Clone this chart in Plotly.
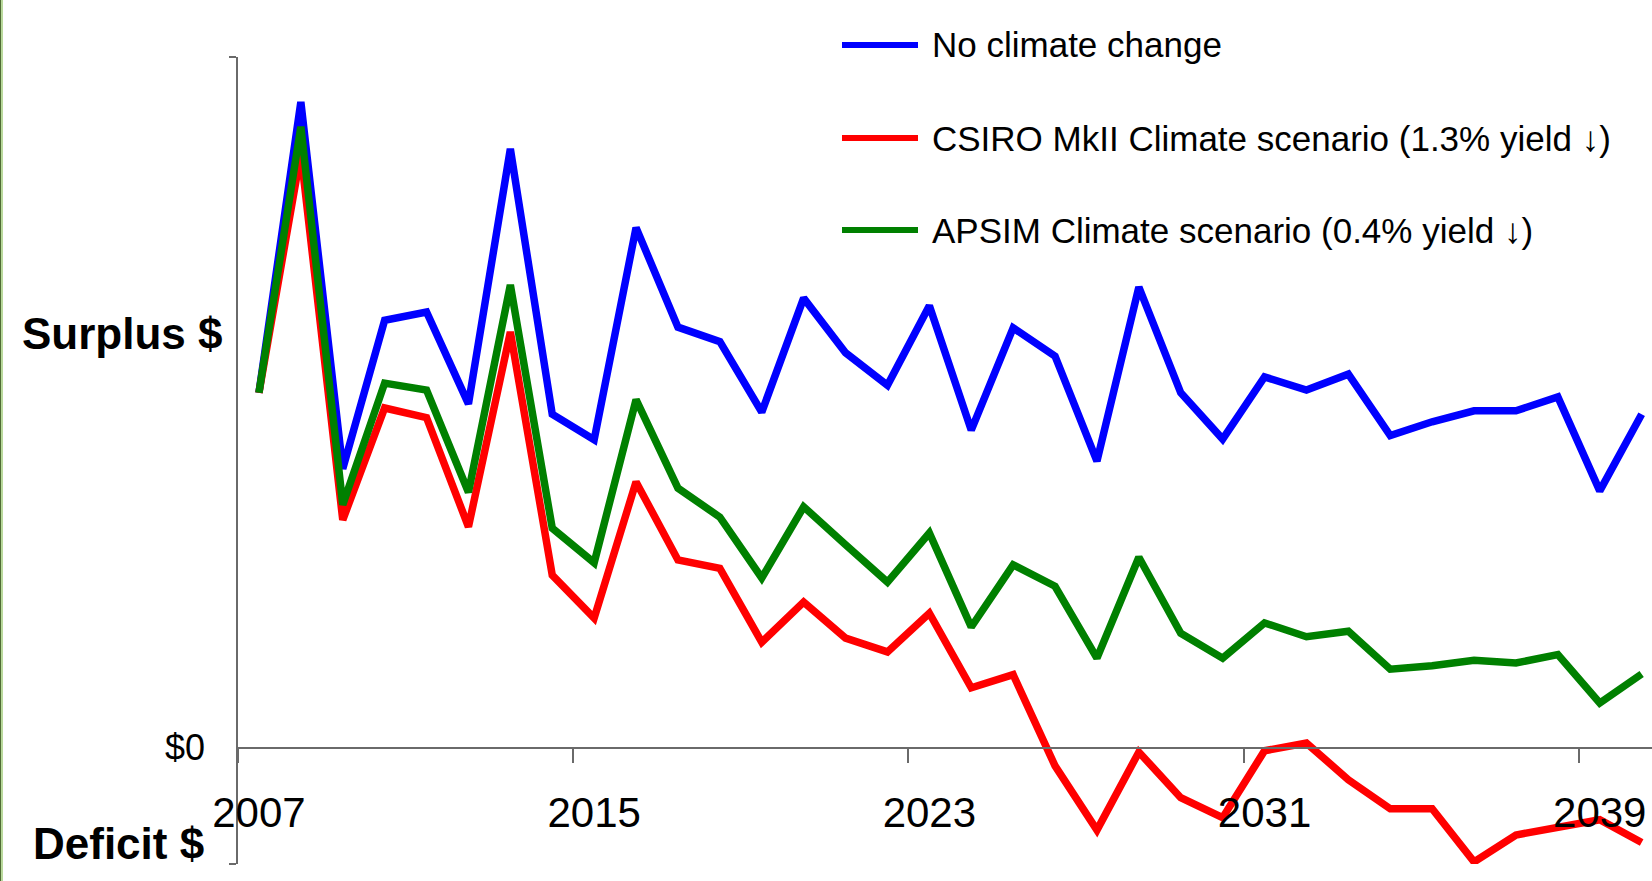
import plotly.graph_objects as go

# Annual farm cash balance by scenario (arbitrary $ units, 0 = break-even)
years = list(range(2007, 2041))

no_climate_change = [
    51.4, 93.5, 40.4, 61.9, 63.1, 49.8, 86.7, 48.3, 44.6, 75.3,
    60.9, 58.8, 48.6, 65.1, 57.2, 52.5, 64.0, 46.0, 60.8, 56.7,
    41.5, 66.7, 51.4, 44.7, 53.7, 51.8, 54.1, 45.2, 47.2, 48.8,
    48.8, 50.8, 37.2, 48.3,
]
csiro_mk2 = [
    51.4, 86.1, 33.0, 49.2, 47.8, 32.0, 60.2, 25.0, 18.8, 38.5,
    27.2, 26.0, 15.3, 21.1, 15.9, 13.9, 19.5, 8.7, 10.6, -2.6,
    -11.9, -0.6, -7.2, -10.1, -0.4, 0.7, -4.6, -8.8, -8.8, -16.5,
    -12.6, -11.4, -10.4, -13.7,
]
apsim = [
    51.4, 89.9, 35.2, 52.8, 51.8, 37.0, 67.0, 31.8, 26.8, 50.4,
    37.6, 33.4, 24.6, 34.9, 29.4, 24.0, 31.1, 17.5, 26.5, 23.4,
    13.0, 27.6, 16.6, 13.0, 18.1, 16.1, 16.9, 11.4, 11.9, 12.7,
    12.3, 13.5, 6.5, 10.7,
]

series_names = [
    "No climate change",
    "CSIRO MkII Climate scenario (1.3% yield \u2193)",
    "APSIM Climate scenario (0.4% yield \u2193)",
]
series_colors = ["#0000FF", "#FF0000", "#008000"]

year_labels = [2007, 2015, 2023, 2031, 2039]
y_min, y_max = -16.8, 100.0

# page geometry (pixels)
W, H = 1652, 881
L, R, T, B = 238, 0, 57, 17
plot_w = W - L - R
plot_h = H - T - B


def px_x(px):
    return (px - L) / plot_w


def px_y(py):
    return (H - B - py) / plot_h


font_family = "Liberation Sans, Arial, sans-serif"

fig = go.Figure()
# drawn in order: blue, red, then green on top
for name, vals, col in zip(series_names, [no_climate_change, csiro_mk2, apsim], series_colors):
    fig.add_trace(go.Scatter(
        x=years, y=vals, mode="lines", name=name,
        line=dict(color=col, width=7.5),
        showlegend=False, hoverinfo="skip",
    ))

zero_pos = (0 - y_min) / (y_max - y_min)

fig.update_layout(
    width=W, height=H,
    margin=dict(l=L, r=R, t=T, b=B, pad=0),
    paper_bgcolor="white", plot_bgcolor="white",
    xaxis=dict(
        range=[2006.5, 2006.5 + plot_w / 41.9],
        anchor="free", position=zero_pos,
        showgrid=False, zeroline=False,
        showline=True, linecolor="#6a6a6a", linewidth=1.5,
        tickmode="array", tickvals=year_labels,
        ticktext=[str(v) for v in year_labels],
        ticks="outside", ticklen=28, tickcolor="rgba(0,0,0,0)",
        tickfont=dict(family=font_family, size=42, color="black"),
        minor=dict(
            tickvals=[v - 0.5 for v in year_labels],
            ticks="outside", ticklen=14, tickcolor="#6a6a6a", tickwidth=1.5,
            showgrid=False,
        ),
    ),
    yaxis=dict(
        range=[y_min, y_max],
        showgrid=False, zeroline=False,
        showline=True, linecolor="#6a6a6a", linewidth=1.5,
        tickmode="array", tickvals=[y_min, y_max], ticktext=["", ""],
        ticks="outside", ticklen=7, tickcolor="#6a6a6a", tickwidth=1.5,
    ),
)

annotations = [
    dict(text="$0", x=px_x(207), y=zero_pos, xanchor="right", yanchor="middle",
         font=dict(family=font_family, size=36, color="black")),
    dict(text="<b>Surplus $</b>", x=px_x(122), y=px_y(333), xanchor="center", yanchor="middle",
         font=dict(family=font_family, size=44, color="black")),
    dict(text="<b>Deficit $</b>", x=px_x(118), y=px_y(843), xanchor="center", yanchor="middle",
         font=dict(family=font_family, size=44, color="black")),
]

shapes = [
    # left page border
    dict(type="line", xref="paper", yref="paper", x0=px_x(0.5), x1=px_x(0.5), y0=px_y(0), y1=px_y(H),
         line=dict(color="#4f6b35", width=1)),
    dict(type="line", xref="paper", yref="paper", x0=px_x(2), x1=px_x(2), y0=px_y(0), y1=px_y(H),
         line=dict(color="#b9d99c", width=2)),
]

# legend: line samples with labels
legend_rows = [45, 138, 230]
for name, col, row in zip(series_names, series_colors, legend_rows):
    shapes.append(dict(type="line", xref="paper", yref="paper",
                       x0=px_x(842), x1=px_x(918), y0=px_y(row), y1=px_y(row),
                       line=dict(color=col, width=6)))
    annotations.append(dict(text=name, x=px_x(930), y=px_y(row), xanchor="left", yanchor="middle",
                            font=dict(family=font_family, size=35, color="black")))

for a in annotations:
    a.update(xref="paper", yref="paper", showarrow=False)

fig.update_layout(annotations=annotations, shapes=shapes)

fig.write_html("out.html")
